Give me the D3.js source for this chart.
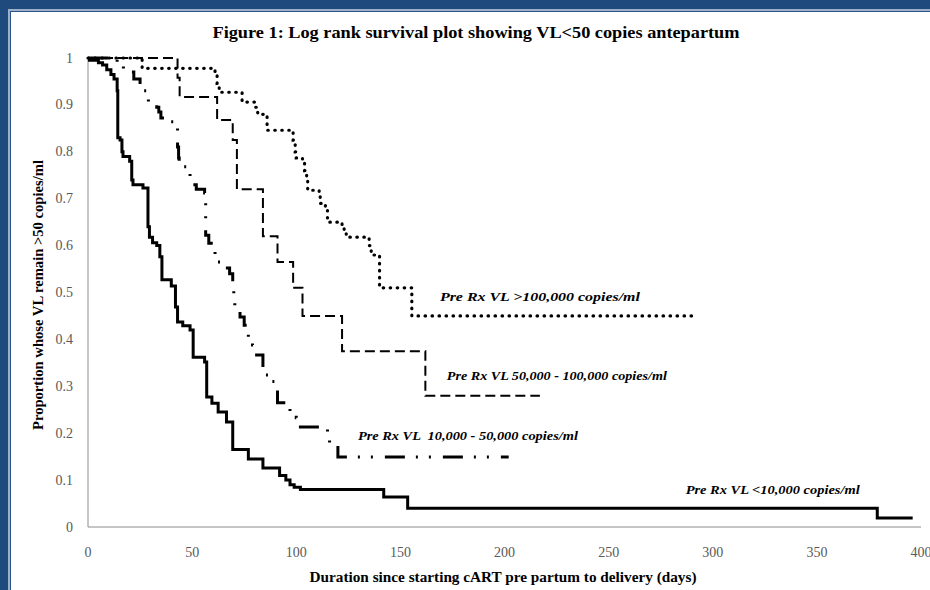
<!DOCTYPE html>
<html>
<head>
<meta charset="utf-8">
<script src="https://cdn.jsdelivr.net/npm/d3@7"></script>
<style>
  body { margin: 0; background: #fff; }
  svg text { font-family: "Liberation Serif", "DejaVu Serif", serif; }
</style>
</head>
<body>
<div id="chart"></div>
<script>
// survival steps (days since starting cART, proportion still >50 copies/ml)
const lowDays  = [0, 5, 7, 9, 11, 12.5, 14, 14.3, 15.4, 16.3, 16.8, 20, 21, 21.6, 26.4, 28.8, 29.5, 31, 33, 34.5, 35.5, 40, 42, 43, 45.5, 49, 50.5, 56, 57, 59.5, 62.5, 66.5, 69.5, 77, 84, 92, 95, 97, 99, 102, 142, 153.5, 379, 396];
const lowSurv  = [0.995, 0.99, 0.985, 0.975, 0.965, 0.955, 0.93, 0.83, 0.825, 0.80, 0.79, 0.78, 0.74, 0.73, 0.723, 0.64, 0.618, 0.606, 0.60, 0.576, 0.527, 0.514, 0.469, 0.437, 0.429, 0.42, 0.362, 0.352, 0.277, 0.264, 0.245, 0.224, 0.165, 0.145, 0.126, 0.11, 0.10, 0.09, 0.085, 0.08, 0.064, 0.04, 0.019, 0.019];

const midDays  = [0, 14, 17, 22, 25, 28, 29, 31, 33, 34, 35, 39, 42, 43, 43.5, 43.8, 49, 52, 56, 56.5, 58, 61, 62, 65, 68, 69.5, 70, 70.5, 73, 75, 77, 79, 80, 84, 88, 90, 91, 97, 100, 102, 115, 116, 120, 202];
const midSurv  = [1.0, 0.985, 0.97, 0.955, 0.93, 0.925, 0.906, 0.90, 0.895, 0.885, 0.872, 0.864, 0.85, 0.81, 0.787, 0.768, 0.73, 0.72, 0.712, 0.622, 0.605, 0.58, 0.565, 0.552, 0.54, 0.52, 0.484, 0.463, 0.448, 0.43, 0.40, 0.388, 0.367, 0.324, 0.31, 0.30, 0.265, 0.245, 0.233, 0.213, 0.19, 0.175, 0.149, 0.149];

const highDays = [0, 43, 44, 62, 69.5, 71.5, 84, 91, 98.5, 103, 122, 162, 217];
const highSurv = [1.0, 0.958, 0.917, 0.868, 0.825, 0.72, 0.62, 0.565, 0.51, 0.45, 0.375, 0.28, 0.28];

const topDays  = [0, 26, 61, 62, 63, 74, 80, 81.5, 85, 86, 98.5, 99.5, 100, 103, 104, 105, 105.5, 111, 111.5, 114, 115, 122, 123, 124, 135, 136, 140, 155.5, 291];
const topSurv  = [1.0, 0.978, 0.968, 0.946, 0.927, 0.906, 0.895, 0.88, 0.875, 0.846, 0.825, 0.80, 0.787, 0.778, 0.76, 0.746, 0.718, 0.712, 0.69, 0.68, 0.65, 0.64, 0.63, 0.618, 0.60, 0.58, 0.51, 0.45, 0.45];

const seriesNames = ["Pre Rx VL <10,000 copies/ml", "Pre Rx VL  10,000 - 50,000 copies/ml",
                     "Pre Rx VL 50,000 - 100,000 copies/ml", "Pre Rx VL >100,000 copies/ml"];
// where each curve label sits, in data units (day, proportion)
const labelDays = [287, 129.6, 172.3, 169];
const labelSurv = [0.07, 0.186, 0.313, 0.482];

const xTicks = [0, 50, 100, 150, 200, 250, 300, 350, 400];
const yTicks = [0, 0.1, 0.2, 0.3, 0.4, 0.5, 0.6, 0.7, 0.8, 0.9, 1];

const W = 930, H = 590;
const margin = { top: 58, left: 88, right: 9, bottom: 63 };

const svg = d3.select("#chart").append("svg")
  .attr("width", W).attr("height", H);

// blue slide frame
svg.append("rect").attr("width", W).attr("height", H).attr("fill", "#1f4a7e");
svg.append("rect").attr("x", 8).attr("y", 9).attr("width", W).attr("height", H).attr("fill", "#9db0c8");
svg.append("rect").attr("x", 10).attr("y", 11).attr("width", W).attr("height", H).attr("fill", "#2a558a");
svg.append("rect").attr("x", 11).attr("y", 12).attr("width", W).attr("height", H).attr("fill", "#fff");

const x = d3.scaleLinear().domain([0, 400]).range([margin.left, W - margin.right]);
const y = d3.scaleLinear().domain([0, 1]).range([H - margin.bottom, margin.top]);

// axes: plain grey lines, no tick marks
svg.append("line")
  .attr("x1", x(0)).attr("x2", x(0)).attr("y1", y(1)).attr("y2", y(0))
  .attr("stroke", "#8c8c8c").attr("stroke-width", 1);
svg.append("line")
  .attr("x1", x(0)).attr("x2", x(400)).attr("y1", y(0)).attr("y2", y(0))
  .attr("stroke", "#8c8c8c").attr("stroke-width", 1);

svg.selectAll(".ytick").data(yTicks).join("text")
  .attr("class", "ytick")
  .attr("x", 73).attr("y", d => y(d) + 4.5)
  .attr("text-anchor", "end")
  .attr("font-size", 14).attr("fill", "#595959")
  .text(d => d3.format("~g")(d));

svg.selectAll(".xtick").data(xTicks).join("text")
  .attr("class", "xtick")
  .attr("x", d => x(d)).attr("y", 557)
  .attr("text-anchor", "middle")
  .attr("font-size", 14).attr("fill", "#595959")
  .text(d => d);

// titles
svg.append("text")
  .attr("x", 476).attr("y", 38)
  .attr("text-anchor", "middle")
  .attr("font-size", 17).attr("font-weight", "bold")
  .attr("textLength", 527).attr("lengthAdjust", "spacingAndGlyphs")
  .text("Figure 1: Log rank survival plot showing VL<50 copies antepartum");

svg.append("text")
  .attr("transform", "translate(43,295) rotate(-90)")
  .attr("text-anchor", "middle")
  .attr("font-size", 14).attr("font-weight", "bold")
  .attr("textLength", 270).attr("lengthAdjust", "spacingAndGlyphs")
  .text("Proportion whose VL remain >50 copies/ml");

svg.append("text")
  .attr("x", 503).attr("y", 582)
  .attr("text-anchor", "middle")
  .attr("font-size", 14).attr("font-weight", "bold")
  .attr("textLength", 387).attr("lengthAdjust", "spacingAndGlyphs")
  .text("Duration since starting cART pre partum to delivery (days)");

// curves
const step = d3.line()
  .x(d => x(d[0]))
  .y(d => y(d[1]))
  .curve(d3.curveStepAfter);

const curves = [
  { days: lowDays,  surv: lowSurv,  width: 3,   dash: null,                    cap: "butt" },
  { days: midDays,  surv: midSurv,  width: 3,   dash: "20,11,2,11,2,12",       cap: "butt" },
  { days: highDays, surv: highSurv, width: 2,   dash: "10,5",                  cap: "butt" },
  { days: topDays,  surv: topSurv,  width: 3.2, dash: "0.5,6.5",               cap: "round" }
];

curves.forEach(c => {
  const pts = c.days.map((d, i) => [d, c.surv[i]]);
  svg.append("path")
    .attr("d", step(pts))
    .attr("fill", "none")
    .attr("stroke", "#000")
    .attr("stroke-width", c.width)
    .attr("stroke-linecap", c.cap)
    .attr("stroke-dasharray", c.dash);
});

// curve labels
const labelWidths = [174, 220, 220, 200];
seriesNames.forEach((name, i) => {
  svg.append("text")
    .attr("x", x(labelDays[i])).attr("y", y(labelSurv[i]))
    .attr("font-size", 13).attr("font-style", "italic").attr("font-weight", "bold")
    .attr("textLength", labelWidths[i]).attr("lengthAdjust", "spacingAndGlyphs")
    .style("white-space", "pre")
    .text(name);
});
</script>
</body>
</html>
